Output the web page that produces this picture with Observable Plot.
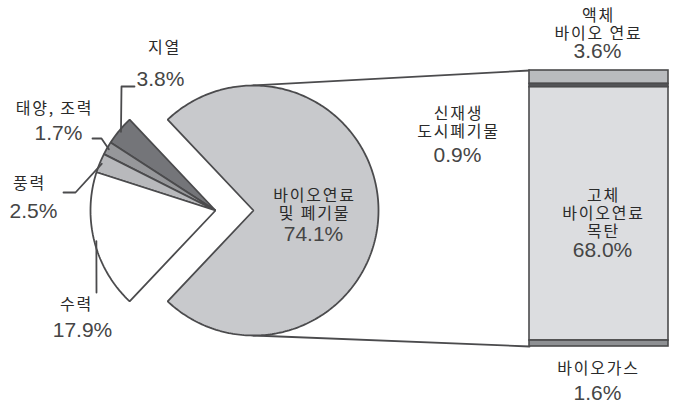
<!DOCTYPE html>
<html><head><meta charset="utf-8">
<script src="https://cdn.jsdelivr.net/npm/d3@7"></script>
<script src="https://cdn.jsdelivr.net/npm/@observablehq/plot@0.6"></script>
<style>body{margin:0;background:#fff}</style>
</head><body><div id="chart"></div>
<script>
// ---- data ----
const pieLabels = ["바이오연료\n및 폐기물", "지열", "태양, 조력", "풍력", "수력"];
const pieValues = [74.1, 3.8, 1.7, 2.5, 17.9];
const barLabels = ["액체\n바이오 연료", "신재생\n도시폐기물", "고체\n바이오연료\n목탄", "바이오가스"];
const barValues = [3.6, 0.9, 68.0, 1.6];

// ---- styles ----
const pieColors = ["#c8c9cc", "#747579", "#96979a", "#b8b9bc", "#ffffff"];
const barColors = ["#b9bbbe", "#555659", "#dcdde0", "#8e9093"];
const edge = "#4b4b4d";
const krFont = "'Noto Sans CJK KR', sans-serif";
const numFont = "'Liberation Sans', Arial, sans-serif";

// ---- layout (pixels) ----
const W = 674, H = 404;
const bar = {x1: 529, x2: 668, top: 70, bottom: 346};
const pie = {cx: 215, cy: 210, r: 125, explode: 38};
const barTotal = d3.sum(barValues);
const k = (bar.bottom - bar.top) / barTotal;   // px per unit
const ux = p => p / k, uy = p => (bar.bottom - p) / k;
const deg = Math.PI / 180;
const pieTotal = d3.sum(pieValues);

function slice(cx, cy, r, a0, a1) {
  const c = {x: ux(cx), y: uy(cy)}, ru = r / k;
  const pts = [c];
  const n = Math.max(2, Math.ceil(Math.abs(a1 - a0)));
  for (let i = 0; i <= n; i++) {
    const a = (a0 + (a1 - a0) * i / n) * deg;
    pts.push({x: c.x + ru * Math.cos(a), y: c.y + ru * Math.sin(a)});
  }
  return pts;
}
function arcPt(cx, cy, r, a) {
  return {x: ux(cx) + (r / k) * Math.cos(a * deg), y: uy(cy) + (r / k) * Math.sin(a * deg)};
}

// pie slices: big one exploded to the right, others on the left in order
const half = pieValues[0] / pieTotal * 180;
const slices = [];
const mids = [];
slices.push(slice(pie.cx + pie.explode, pie.cy, pie.r, -half, half));
mids.push(0);
let start = half;
for (let i = 1; i < pieValues.length; i++) {
  const span = pieValues[i] / pieTotal * 360;
  slices.push(slice(pie.cx, pie.cy, pie.r, start, start + span));
  mids.push(start + span / 2);
  start += span;
}

// bar segments, stacked top to bottom
let cum = 0;
const barSegs = barValues.map((v, i) => {
  const s = {y2: barTotal - cum, y1: barTotal - cum - v, fill: barColors[i]};
  cum += v;
  return s;
});

// connectors from exploded slice to bar
const bigCx = pie.cx + pie.explode;
const connTop = [arcPt(bigCx, pie.cy, pie.r, 90), {x: ux(bar.x1), y: barTotal}];
const connBot = [arcPt(bigCx, pie.cy, pie.r, -90), {x: ux(bar.x1), y: 0}];

// leader elbows (pixels)
const leaderElbows = [null, [[121, 86], [134, 86]], [[101, 138], [92, 138]], [[75, 192], [63, 192]], [[96, 292]]];
const leaders = leaderElbows.map((e, i) => e && [arcPt(pie.cx, pie.cy, pie.r - 2, mids[i])]
  .concat(e.map(([x, y]) => ({x: ux(x), y: uy(y)})))).filter(Boolean);

// label positions (pixels): [nameX, nameY, pctX, pctY]
const pieLabelPos = [[314, 204, 313, 234], [164, 47, 160, 79], [54, 108, 58, 133], [29, 183, 33, 211], [76, 304, 82, 330]];
const barLabelPos = [[598, 24, 597, 51], [458, 122, 457, 155], [603, 213, 602, 250], [598, 368, 597, 393]];

const names = [], pcts = [];
pieLabels.forEach((l, i) => {
  const p = pieLabelPos[i];
  names.push({x: ux(p[0]), y: uy(p[1]), t: l});
  pcts.push({x: ux(p[2]), y: uy(p[3]), t: pieValues[i].toFixed(1) + "%"});
});
barLabels.forEach((l, i) => {
  const p = barLabelPos[i];
  names.push({x: ux(p[0]), y: uy(p[1]), t: l});
  pcts.push({x: ux(p[2]), y: uy(p[3]), t: barValues[i].toFixed(1) + "%"});
});

const marks = [];
marks.push(Plot.line(connTop, {x: "x", y: "y", stroke: edge, strokeWidth: 1.8}));
marks.push(Plot.line(connBot, {x: "x", y: "y", stroke: edge, strokeWidth: 1.8}));
slices.forEach((pts, i) => marks.push(Plot.line(pts, {x: "x", y: "y", fill: pieColors[i], stroke: edge, strokeWidth: 1.8, curve: "linear-closed", strokeLinejoin: "miter"})));
marks.push(Plot.rect(barSegs, {x1: ux(bar.x1), x2: ux(bar.x2), y1: "y1", y2: "y2", fill: "fill", stroke: edge, strokeWidth: 1.6}));
leaders.forEach(pts => marks.push(Plot.line(pts, {x: "x", y: "y", stroke: edge, strokeWidth: 1.8})));
marks.push(Plot.text(names, {x: "x", y: "y", text: "t", fontFamily: krFont, fontSize: 16, lineHeight: 1.12, fill: "#2a2a2a"}));
marks.push(Plot.text(pcts, {x: "x", y: "y", text: "t", fontFamily: numFont, fontSize: 21, fill: "#454545"}));

const chart = Plot.plot({
  width: W, height: H, margin: 0,
  x: {domain: [0, W / k], axis: null},
  y: {domain: [(bar.bottom - H) / k, bar.bottom / k], axis: null},
  marks
});
const textGroups = chart.querySelectorAll('g[aria-label="text"]');
if (textGroups.length) textGroups[0].style.letterSpacing = "1.8px";
document.getElementById("chart").appendChild(chart);
</script>
</body></html>
